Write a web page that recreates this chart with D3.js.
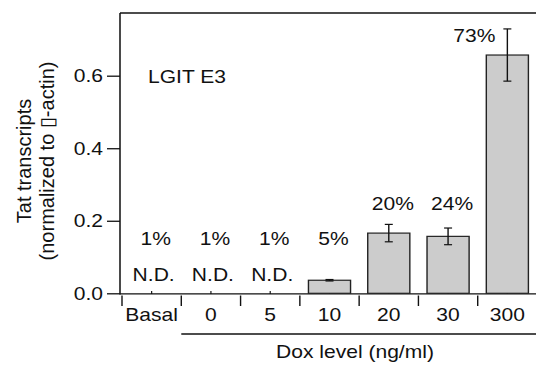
<!DOCTYPE html>
<html>
<head>
<meta charset="utf-8">
<script src="https://cdn.jsdelivr.net/npm/d3@7"></script>
<style>
  body { margin: 0; background: #fff; }
  text { font-family: "Liberation Sans", Arial, sans-serif; fill: #111; }
</style>
</head>
<body>
<div id="chart-container"></div>
<script>
var categories = ["Basal", "0", "5", "10", "20", "30", "300"];
var values = [0, 0, 0, 0.036, 0.166, 0.157, 0.657];
var errors = [0, 0, 0, 0.002, 0.024, 0.023, 0.072];
var detected = [false, false, false, true, true, true, true];
var percents = ["1%", "1%", "1%", "5%", "20%", "24%", "73%"];
var yTicks = [0, 0.2, 0.4, 0.6];

var data = categories.map(function(c, i) {
  return { cat: c, value: values[i], err: errors[i], det: detected[i], pct: percents[i] };
});

// the whole figure is a bit wider than tall, so draw in narrower units and stretch
var sx = 1.17;
var fullW = 536, fullH = 365;
function ix(px) { return px / sx; }

var svg = d3
  .select("#chart-container")
  .append("svg")
  .attr("width", fullW)
  .attr("height", fullH);

var g = svg.append("g").attr("transform", "scale(" + sx + ",1)");

var frameLeft = 120, frameTop = 13;

var y = d3.scaleLinear().domain([0, 0.6]).range([293.3, 75.7]);

var x = d3
  .scaleBand()
  .domain(categories)
  .range([ix(122), ix(537)])
  .paddingInner(0.29)
  .paddingOuter(0.145);

// frame: top and bottom lines
g.append("line")
  .attr("x1", ix(frameLeft)).attr("x2", ix(fullW))
  .attr("y1", frameTop).attr("y2", frameTop)
  .attr("stroke", "#111").attr("stroke-width", 1.3);

g.append("line")
  .attr("x1", ix(frameLeft)).attr("x2", ix(fullW))
  .attr("y1", y(0) + 0.6).attr("y2", y(0) + 0.6)
  .attr("stroke", "#111").attr("stroke-width", 1.3);

// y axis
var yAxis = d3
  .axisLeft(y)
  .tickValues(yTicks)
  .tickFormat(d3.format(".1f"))
  .tickSizeInner(ix(13))
  .tickSizeOuter(0)
  .tickPadding(ix(4));

var yG = g
  .append("g")
  .attr("transform", "translate(" + ix(frameLeft) + ",0)")
  .call(yAxis);

yG.select(".domain").attr("d", "M0," + frameTop + "V" + (y(0) + 1.2)).attr("stroke", "#111").attr("stroke-width", 1.3);
yG.selectAll(".tick line").attr("stroke", "#111").attr("stroke-width", 1.3);
yG.selectAll(".tick text").attr("font-size", 18).attr("fill", "#111").attr("font-family", "Liberation Sans, Arial, sans-serif");

// x axis: category labels and small center ticks
var xAxis = d3.axisBottom(x).tickSizeInner(-3).tickSizeOuter(0).tickPadding(14);

var xG = g
  .append("g")
  .attr("transform", "translate(0," + (y(0) + 0.6) + ")")
  .call(xAxis);

xG.select(".domain").remove();
xG.selectAll(".tick line").attr("stroke", "#111").attr("stroke-width", 1);
xG.selectAll(".tick text").attr("font-size", 18).attr("fill", "#111").attr("font-family", "Liberation Sans, Arial, sans-serif");

// separators between categories
var half = (x.step() * x.paddingInner()) / 2;
var bounds = categories.map(function(c) { return x(c) - half; });
bounds.push(x(categories[categories.length - 1]) + x.bandwidth() + half);

g.selectAll(".sep")
  .data(bounds)
  .enter()
  .append("line")
  .attr("class", "sep")
  .attr("x1", function(d) { return d; })
  .attr("x2", function(d) { return d; })
  .attr("y1", 295.5)
  .attr("y2", 306)
  .attr("stroke", "#111")
  .attr("stroke-width", 1.2);

// bars
var bars = data.filter(function(d) { return d.det; });

g.selectAll(".bar")
  .data(bars)
  .enter()
  .append("rect")
  .attr("class", "bar")
  .attr("x", function(d) { return x(d.cat); })
  .attr("width", x.bandwidth())
  .attr("y", function(d) { return y(d.value); })
  .attr("height", function(d) { return y(0) - y(d.value); })
  .attr("fill", "#cccccc")
  .attr("stroke", "#222")
  .attr("stroke-width", 1.2);

// error bars
var capW = ix(8);
var eb = g.selectAll(".err").data(bars).enter().append("g").attr("class", "err");

eb.append("line")
  .attr("x1", function(d) { return x(d.cat) + x.bandwidth() / 2; })
  .attr("x2", function(d) { return x(d.cat) + x.bandwidth() / 2; })
  .attr("y1", function(d) { return y(d.value + d.err); })
  .attr("y2", function(d) { return y(d.value - d.err); })
  .attr("stroke", "#111").attr("stroke-width", 1.2);

eb.append("line")
  .attr("x1", function(d) { return x(d.cat) + x.bandwidth() / 2 - capW / 2; })
  .attr("x2", function(d) { return x(d.cat) + x.bandwidth() / 2 + capW / 2; })
  .attr("y1", function(d) { return y(d.value + d.err); })
  .attr("y2", function(d) { return y(d.value + d.err); })
  .attr("stroke", "#111").attr("stroke-width", 1.2);

eb.append("line")
  .attr("x1", function(d) { return x(d.cat) + x.bandwidth() / 2 - capW / 2; })
  .attr("x2", function(d) { return x(d.cat) + x.bandwidth() / 2 + capW / 2; })
  .attr("y1", function(d) { return y(d.value - d.err); })
  .attr("y2", function(d) { return y(d.value - d.err); })
  .attr("stroke", "#111").attr("stroke-width", 1.2);

// N.D. labels
g.selectAll(".nd")
  .data(data.filter(function(d) { return !d.det; }))
  .enter()
  .append("text")
  .attr("class", "nd")
  .attr("x", function(d) { return x(d.cat) + x.bandwidth() / 2 + ix(2); })
  .attr("y", 281.5)
  .attr("text-anchor", "middle")
  .attr("font-size", 18)
  .text("N.D.");

// percentage labels
g.selectAll(".pct")
  .data(data)
  .enter()
  .append("text")
  .attr("class", "pct")
  .attr("x", function(d) {
    var cx = x(d.cat) + x.bandwidth() / 2;
    return d.value > 0.5 ? cx - ix(12) : cx + ix(4);
  })
  .attr("y", function(d) {
    if (d.value > 0.5) return y(d.value + d.err) + 13;
    return d.value > 0.1 ? 210 : 245;
  })
  .attr("text-anchor", function(d) { return d.value > 0.5 ? "end" : "middle"; })
  .attr("font-size", 18)
  .text(function(d) { return d.pct; });

// panel label
g.append("text")
  .attr("x", ix(148))
  .attr("y", 83.5)
  .attr("font-size", 18)
  .text("LGIT E3");

// y title, two lines (not stretched)
var yTitle = svg.append("g").attr("transform", "translate(0,161)");
yTitle.append("text")
  .attr("transform", "translate(30.5,0) rotate(-90)")
  .attr("text-anchor", "middle")
  .attr("font-size", 20)
  .text("Tat transcripts");
yTitle.append("text")
  .attr("transform", "translate(54,0) rotate(-90)")
  .attr("text-anchor", "middle")
  .attr("font-size", 20)
  .text("(normalized to \u25AF-actin)");

// dox bracket line and title
g.append("line")
  .attr("x1", bounds[1]).attr("x2", ix(fullW))
  .attr("y1", 334).attr("y2", 334)
  .attr("stroke", "#111").attr("stroke-width", 1.3);

g.append("text")
  .attr("x", ix(355))
  .attr("y", 358)
  .attr("text-anchor", "middle")
  .attr("font-size", 18)
  .text("Dox level (ng/ml)");
</script>
</body>
</html>
